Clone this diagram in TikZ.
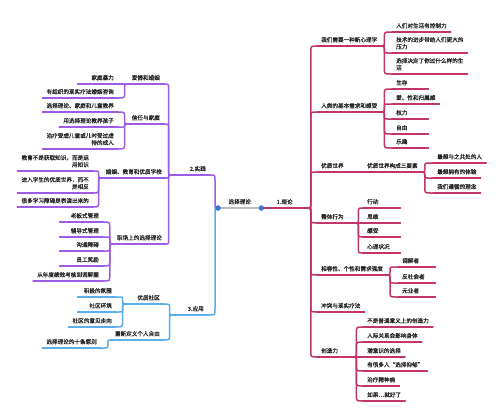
\documentclass[tikz,border=0pt]{standalone}
\usepackage{fontspec}
\setmainfont{Noto Sans CJK SC}[FakeBold=0.35]
\usetikzlibrary{calc}
\definecolor{cred}{HTML}{C2356B}
\definecolor{cpur}{HTML}{9E5BE3}
\definecolor{cblu}{HTML}{5AAEEA}
\definecolor{cgry}{HTML}{BDBDBD}
\definecolor{cdot}{HTML}{3F72D9}
\definecolor{ctxt}{HTML}{222222}
\begin{document}
\begin{tikzpicture}[x=1pt,y=-1pt,
  txt/.style={font=\fontsize{5.6}{7}\selectfont, text=ctxt, inner xsep=4pt, inner ysep=3.5pt},
  rn/.style={txt, anchor=south west, align=left},
  ln/.style={txt, anchor=south east, align=right},
  tw/.style={text width=#1},
  rline/.style={draw=cred, line width=1.5pt, line cap=round},
  pline/.style={draw=cpur, line width=1.5pt, line cap=round},
  bline/.style={draw=cblu, line width=1.5pt, line cap=round},
  gline/.style={draw=cgry, line width=1.8pt},
  dot/.style={circle, fill=cdot, inner sep=0pt, minimum size=5.5pt},
  br/.style={to path={
    let \p1=(\tikztostart), \p2=(\tikztotarget),
        \n1={sign(\x2-\x1)}, \n2={sign(\y2-\y1)},
        \n3={max(0,min(6,abs(\y2-\y1)/2,abs(\x2-\x1)-3))},
        \n4={min(3,abs(\y2-\y1)/2)}
    in .. controls (\x1+\n1*3pt,\y1) .. (\x1+\n1*3pt,\y1+\n2*\n4)
       -- (\x1+\n1*3pt,\y2-\n2*\n3)
       .. controls (\x1+\n1*3pt,\y2) .. (\x1+\n1*3pt+\n1*\n3,\y2)
       -- (\x2,\y2)}}
]
\useasboundingbox (0,0) rectangle (500,413);
\fill[white] (0,0) rectangle (500,413);

% centre
\node[txt, anchor=south west, minimum width=43pt, inner xsep=0pt] (c) at (218,208) {选择理论};
\node[txt, anchor=south west, minimum width=46pt, inner xsep=0pt] (r0) at (c.south east) {1.理论};

% right (red)
\node[rn] (n1) at (317,46) {我们需要一种新心理学};
\node[rn] (n2) at (317,112) {人类的基本需求和感受};
\node[rn, tw=30pt] (n3) at (317,172) {优质世界};
\node[rn, tw=30pt] (n4) at (317,223) {整体行为};
\node[rn] (n5) at (317,275) {相容性、个性和需求强度};
\node[rn] (n6) at (317,312) {冲突与现实疗法};
\node[rn, tw=28pt] (n7) at (317,357) {创造力};

\node[rn] (n11) at (392,32) {人们对生活有控制力};
\node[rn] (n12) at (392,53) {技术的进步带给人们更大的\\压力};
\node[rn] (n13) at (392,74) {选择决定了你过什么样的生\\活};
\node[rn, tw=28pt] (n21) at (392,89) {生存};
\node[rn] (n22) at (392,104) {爱、性和归属感};
\node[rn, tw=28pt] (n23) at (392,119) {权力};
\node[rn, tw=28pt] (n24) at (392,134) {自由};
\node[rn, tw=28pt] (n25) at (392,148) {乐趣};
\node[rn] (n31) at (363,172) {优质世界构成三要素};
\node[rn] (n311) at (433,163) {最想与之共处的人};
\node[rn] (n312) at (433,178) {最想拥有的体验};
\node[rn] (n313) at (433,193) {我们遵循的理念};
\node[rn, tw=29pt] (n41) at (363,208) {行动};
\node[rn, tw=29pt] (n42) at (363,223) {思维};
\node[rn, tw=29pt] (n43) at (363,237) {感受};
\node[rn, tw=29pt] (n44) at (363,253) {心理状况};
\node[rn, tw=29pt] (n51) at (398,267) {调解者};
\node[rn, tw=29pt] (n52) at (398,283) {反社会者};
\node[rn, tw=29pt] (n53) at (398,297) {无业者};
\node[rn] (n71) at (363,327) {不是普通意义上的创造力};
\node[rn] (n72) at (363,342) {人际关系会影响身体};
\node[rn] (n73) at (363,357) {潜意识的选择};
\node[rn] (n74) at (363,371) {有很多人“选择抑郁”};
\node[rn] (n75) at (363,386) {治疗精神病};
\node[rn] (n76) at (363,401) {如果…就好了};

% left (purple)
\node[ln, tw=30pt] (p0) at (210,175) {2.实践};
\node[ln] (p1) at (164,84) {爱情和婚姻};
\node[ln, tw=32pt] (p11) at (118,84) {家庭暴力};
\node[ln] (p12) at (118,98) {有组织的现实疗法婚姻咨询};
\node[ln] (p2) at (164,124) {信任与家庭};
\node[ln] (p21) at (118,112) {选择理论、家庭和儿童教养};
\node[ln] (p22) at (118,127) {用选择理论教养孩子};
\node[ln] (p23) at (118,149) {治疗受虐儿童或儿时受过虐\\待的成人};
\node[ln] (p3) at (166,178) {婚姻、教育和优质学校};
\node[ln] (p31) at (93,171) {教育不是获取知识，而是运\\用知识};
\node[ln] (p32) at (93,193) {进入学生的优质世界，而不\\是相反};
\node[ln] (p33) at (93,207) {很多学习障碍是表演出来的};
\node[ln] (p4) at (166,244) {职场上的选择理论};
\node[ln, tw=35pt] (p41) at (103,222) {老板式管理};
\node[ln, tw=35pt] (p42) at (103,237) {辅导式管理};
\node[ln, tw=35pt] (p43) at (103,251) {沟通障碍};
\node[ln, tw=35pt] (p44) at (103,266) {员工奖励};
\node[ln] (p45) at (103,281) {从年度绩效考核到调解圈};

% left (blue)
\node[ln, tw=27pt] (b0) at (208,315) {3.应用};
\node[ln, tw=30pt] (b1) at (164,304) {优质社区};
\node[ln, tw=30pt] (b11) at (116,297) {积极的氛围};
\node[ln, tw=30pt] (b12) at (116,312) {社区环境};
\node[ln] (b13) at (116,327) {社区的意见走向};
\node[ln] (b2) at (164,340) {重新定义个人自由};
\node[ln] (b21) at (101,348) {选择理论的十条原则};

% underlines
\draw[gline] (c.south west) -- (c.south east);
\foreach \k in {r0,n1,n2,n3,n4,n5,n6,n7,n11,n12,n13,n21,n22,n23,n24,n25,n31,n311,n312,n313,n41,n42,n43,n44,n51,n52,n53,n71,n72,n73,n74,n75,n76}
  \draw[rline] (\k.south west) -- (\k.south east);
\foreach \k in {p0,p1,p11,p12,p2,p21,p22,p23,p3,p31,p32,p33,p4,p41,p42,p43,p44,p45}
  \draw[pline] (\k.south west) -- (\k.south east);
\foreach \k in {b0,b1,b11,b12,b13,b2,b21}
  \draw[bline] (\k.south west) -- (\k.south east);

% connectors red
\foreach \k in {n1,n2,n3,n4,n5,n6,n7}
  \draw[rline] (r0.south east) to[br] (\k.south west);
\foreach \k in {n11,n12,n13}
  \draw[rline] (n1.south east) to[br] (\k.south west);
\foreach \k in {n21,n22,n23,n24,n25}
  \draw[rline] (n2.south east) to[br] (\k.south west);
\draw[rline] (n3.south east) to[br] (n31.south west);
\foreach \k in {n311,n312,n313}
  \draw[rline] (n31.south east) to[br] (\k.south west);
\foreach \k in {n41,n42,n43,n44}
  \draw[rline] (n4.south east) to[br] (\k.south west);
\foreach \k in {n51,n52,n53}
  \draw[rline] (n5.south east) to[br] (\k.south west);
\foreach \k in {n71,n72,n73,n74,n75,n76}
  \draw[rline] (n7.south east) to[br] (\k.south west);

% connectors purple
\draw[pline] (c.south west) to[br] (p0.south east);
\foreach \k in {p1,p2,p3,p4}
  \draw[pline] (p0.south west) to[br] (\k.south east);
\foreach \k in {p11,p12}
  \draw[pline] (p1.south west) to[br] (\k.south east);
\foreach \k in {p21,p22,p23}
  \draw[pline] (p2.south west) to[br] (\k.south east);
\foreach \k in {p31,p32,p33}
  \draw[pline] (p3.south west) to[br] (\k.south east);
\foreach \k in {p41,p42,p43,p44,p45}
  \draw[pline] (p4.south west) to[br] (\k.south east);

% connectors blue
\draw[bline] (c.south west) to[br] (b0.south east);
\foreach \k in {b1,b2}
  \draw[bline] (b0.south west) to[br] (\k.south east);
\foreach \k in {b11,b12,b13}
  \draw[bline] (b1.south west) to[br] (\k.south east);
\draw[bline] (b2.south west) to[br] (b21.south east);

% dots
\node[dot] (dl) at (c.south west) {};
\node[dot] (dr) at (c.south east) {};
\end{tikzpicture}
\end{document}
